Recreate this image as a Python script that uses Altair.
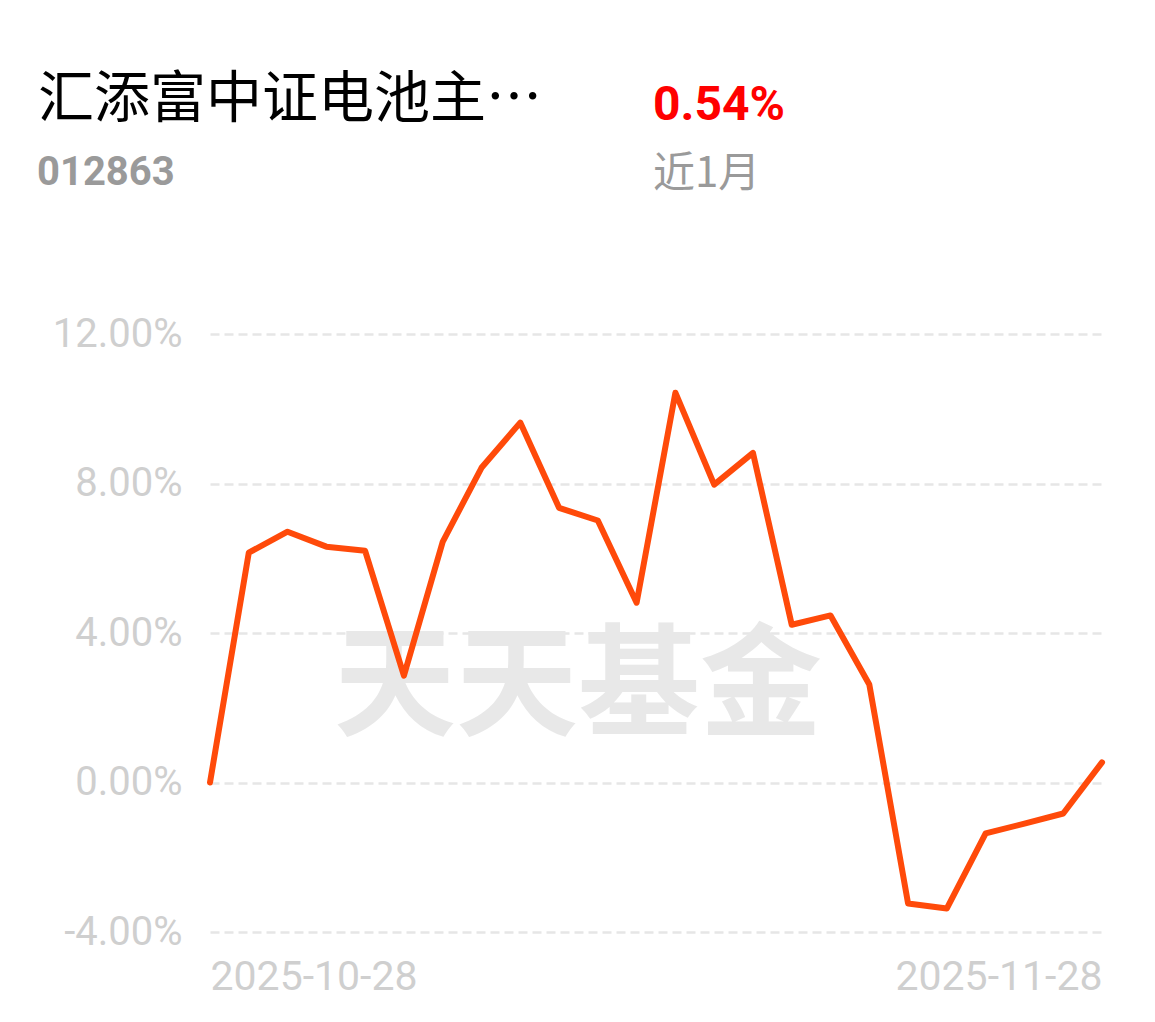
import altair as alt
import pandas as pd

dates = ["2025-10-28", "2025-10-29", "2025-10-30", "2025-10-31",
         "2025-11-03", "2025-11-04", "2025-11-05", "2025-11-06", "2025-11-07",
         "2025-11-10", "2025-11-11", "2025-11-12", "2025-11-13", "2025-11-14",
         "2025-11-17", "2025-11-18", "2025-11-19", "2025-11-20", "2025-11-21",
         "2025-11-24", "2025-11-25", "2025-11-26", "2025-11-27", "2025-11-28"]
returns = [0.00, 6.15, 6.71, 6.31, 6.20, 2.86, 6.44, 8.42, 9.63, 7.35, 7.01, 4.81,
           10.43, 7.97, 8.82, 4.22, 4.47, 2.62, -3.24, -3.37, -1.36, -1.10, -0.83, 0.54]
y_ticks = [-4, 0, 4, 8, 12]
x_ticks = [dates[0], dates[-1]]

fund_name = "汇添富中证电池主…"
fund_code = "012863"
period_return = "0.54%"
period_label = "近1月"
watermark = "天天基金"

df = pd.DataFrame({"date": dates, "ret": returns})

W, H = 892, 598

line = alt.Chart(df).mark_line(
    color="#ff4a0a", strokeWidth=6, strokeCap="round", strokeJoin="round"
).encode(
    x=alt.X("date:O", sort=None,
            scale=alt.Scale(type="point", padding=0),
            axis=alt.Axis(values=x_ticks, title=None, labelAngle=0, labelFlush=True,
                          labelLimit=1000, labelOverlap=False,
                          labelFont="Roboto", labelFontSize=41, labelColor="#cfcfcf",
                          labelPadding=25, ticks=False, domain=False, grid=False)),
    y=alt.Y("ret:Q",
            scale=alt.Scale(domain=[-4, 12], nice=False, zero=False),
            axis=alt.Axis(values=y_ticks, title=None,
                          labelExpr="replace(format(datum.value, '.2f'), '\u2212', '-') + '%'",
                          labelFont="Roboto", labelFontSize=40, labelColor="#cfcfcf",
                          labelPadding=28, ticks=False, domain=False,
                          grid=True, gridColor="#e6e6e6", gridDash=[9, 5], gridWidth=2.5)),
)

def txt(s, x, y, size, color, weight="normal", font="Noto Sans CJK SC", align="left", baseline="alphabetic"):
    return alt.Chart(pd.DataFrame({"t": [s]})).mark_text(
        font=font, fontSize=size, color=color, fontWeight=weight, align=align, baseline=baseline
    ).encode(text="t:N", x=alt.value(x), y=alt.value(y))

wm = txt(watermark, 368, 355, 122, "#e8e8e8", weight="bold", align="center", baseline="middle")
t1 = txt(fund_name, -172, -217, 56, "#000000")
t2 = txt(fund_code, -173, -149, 40, "#9a9a9a", weight="bold", font="Roboto")
t3 = txt(period_return, 443, -214, 48, "#ff0000", weight="bold", font="Roboto")
t4 = txt(period_label, 443, -147, 42, "#9a9a9a")

chart = alt.layer(wm, line, t1, t2, t3, t4).properties(
    width=W, height=H,
    background="white",
    autosize=alt.AutoSizeParams(type="none"),
    padding={"left": 202, "top": 326, "right": 40, "bottom": 70},
).configure_view(strokeWidth=0, stroke=None)

chart.save("out.html", embed_options={"renderer": "svg", "actions": False})
